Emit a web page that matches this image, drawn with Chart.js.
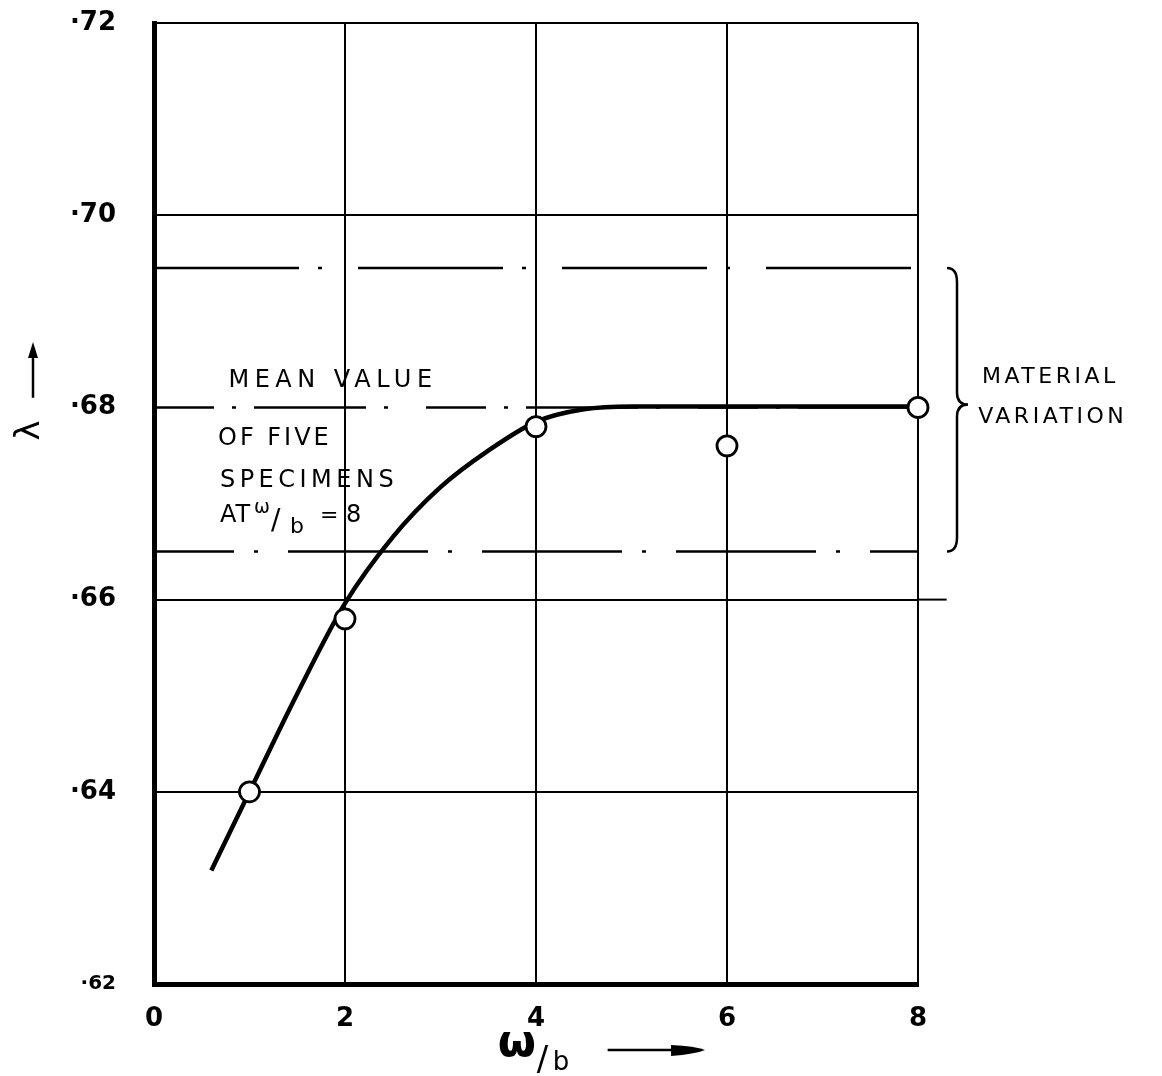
<!DOCTYPE html>
<html lang="en">
<head>
    <meta charset="UTF-8">
    <title>λ against ω/b</title>
    <script src="https://cdn.jsdelivr.net/npm/chart.js"></script>
    <style>
        html, body { margin: 0; padding: 0; background: #fff; }
        #wrap { width: 1162px; height: 1076px; }
    </style>
</head>
<body>
    <div id="wrap"><canvas id="lambdaChart" width="1162" height="1076"></canvas></div>

    <script>
        // axis ticks
        const xTicks = [0, 2, 4, 6, 8];
        const yTicks = [0.62, 0.64, 0.66, 0.68, 0.70, 0.72];

        // test results (open circles)
        const testX = [1, 2, 4, 6, 8];
        const testY = [0.640, 0.658, 0.678, 0.676, 0.680];

        // faired curve
        const curveX = [0.6, 1, 1.5, 2, 2.5, 3, 3.5, 4, 4.5, 5, 6, 7, 8];
        const curveY = [0.6318, 0.640, 0.6502, 0.6596, 0.6665, 0.6717, 0.6755, 0.6785, 0.6798, 0.6801, 0.6801, 0.6801, 0.6801];

        // mean of five specimens at w/b = 8, and the material scatter band
        const meanLevel = [0.680];
        const bandLevels = [0.6945, 0.6650];
        // the .66 rule runs a little past the frame
        const longRule = [0.66];

        const pts = (xs, ys) => xs.map((v, i) => ({ x: v, y: ys[i] }));
        const flat = (level, from, to) => [{ x: from, y: level }, { x: to, y: level }];

        Chart.defaults.font.family = '"DejaVu Sans", sans-serif';
        Chart.defaults.color = '#000';

        // hand lettering, brace and axis arrows
        const notes = {
            id: 'notes',
            afterDraw(chart) {
                const { ctx, chartArea, scales: { x, y } } = chart;
                const write = (text, px, py, size, spacing, weight) => {
                    ctx.font = (weight || 'normal') + ' ' + size + 'px "DejaVu Sans"';
                    ctx.letterSpacing = (spacing || 0) + 'px';
                    ctx.fillText(text, px, py);
                };
                ctx.save();
                ctx.fillStyle = '#000';
                ctx.strokeStyle = '#000';
                ctx.textAlign = 'left';
                ctx.textBaseline = 'alphabetic';

                const lines = [
                    ['MEAN VALUE', 0.78, 0.6821, 24, 5.5],
                    ['OF FIVE', 0.67, 0.6761, 24, 3],
                    ['SPECIMENS', 0.69, 0.6717, 24, 4.5],
                    ['MATERIAL', 8.67, 0.6825, 22, 3.5],
                    ['VARIATION', 8.63, 0.6784, 22, 3.5]
                ];
                lines.forEach(l => write(l[0], x.getPixelForValue(l[1]), y.getPixelForValue(l[2]), l[3], l[4]));

                // "AT w/b = 8"
                const ax = x.getPixelForValue(0.69), ay = y.getPixelForValue(0.6681);
                write('AT', ax, ay, 24, 1);
                write('ω', ax + 34, ay - 9, 19, 0);
                write('/', ax + 51, ay + 7, 28, 0);
                write('b', ax + 70, ay + 11, 22, 0);
                write('=', ax + 100, ay, 22, 0);
                write('8', ax + 126, ay, 24, 0);
                ctx.letterSpacing = '0px';

                // brace for the material variation band
                const yTop = y.getPixelForValue(bandLevels[0]);
                const yBot = y.getPixelForValue(bandLevels[1]);
                const yMid = y.getPixelForValue(meanLevel[0]) - 3;
                const b0 = chartArea.right + 29, b1 = chartArea.right + 39, bt = chartArea.right + 50;
                ctx.lineWidth = 2.5;
                ctx.beginPath();
                ctx.moveTo(b0, yTop);
                ctx.quadraticCurveTo(b1, yTop, b1, yTop + 14);
                ctx.lineTo(b1, yMid - 12);
                ctx.quadraticCurveTo(b1, yMid, bt, yMid);
                ctx.quadraticCurveTo(b1, yMid, b1, yMid + 12);
                ctx.lineTo(b1, yBot - 14);
                ctx.quadraticCurveTo(b1, yBot, b0, yBot);
                ctx.stroke();

                // x title: w/b with arrow
                const tx = x.getPixelForValue(3.6), ty = chartArea.bottom;
                write('ω', tx, ty + 72, 44, 0, 'bold');
                write('/', tx + 39, ty + 86, 34, 0);
                write('b', tx + 55, ty + 86, 26, 0);
                const a0 = x.getPixelForValue(4.75), a1 = x.getPixelForValue(5.77), ay2 = ty + 66;
                ctx.lineWidth = 2.5;
                ctx.beginPath();
                ctx.moveTo(a0, ay2);
                ctx.lineTo(a1 - 20, ay2);
                ctx.stroke();
                ctx.beginPath();
                ctx.moveTo(a1 - 34, ay2 - 5);
                ctx.quadraticCurveTo(a1 - 10, ay2 - 4, a1, ay2);
                ctx.quadraticCurveTo(a1 - 10, ay2 + 4, a1 - 34, ay2 + 6);
                ctx.closePath();
                ctx.fill();

                // y title: lambda with upward arrow
                const lx = chartArea.left - 124, ly = y.getPixelForValue(0.6776);
                ctx.save();
                ctx.translate(lx, ly);
                ctx.rotate(-Math.PI / 2);
                ctx.textAlign = 'center';
                ctx.textBaseline = 'middle';
                write('λ', 0, 0, 34, 0);
                ctx.restore();
                const v0 = y.getPixelForValue(0.6810), v1 = y.getPixelForValue(0.6868), vx = lx + 3;
                ctx.lineWidth = 2.5;
                ctx.beginPath();
                ctx.moveTo(vx, v0);
                ctx.lineTo(vx, v1 + 12);
                ctx.stroke();
                ctx.beginPath();
                ctx.moveTo(vx - 5, v1 + 16);
                ctx.lineTo(vx, v1);
                ctx.lineTo(vx + 5, v1 + 16);
                ctx.closePath();
                ctx.fill();

                ctx.restore();
            }
        };

        const lambdaChart = new Chart(document.getElementById('lambdaChart'), {
            type: 'line',
            data: {
                datasets: [
                    {
                        label: 'tests',
                        data: pts(testX, testY),
                        showLine: false,
                        pointRadius: 10,
                        pointBorderWidth: 2.8,
                        pointBorderColor: '#000',
                        pointBackgroundColor: '#fff',
                        clip: false,
                        order: 0
                    },
                    {
                        label: 'curve',
                        data: pts(curveX, curveY),
                        borderColor: '#000',
                        borderWidth: 4.5,
                        pointRadius: 0,
                        cubicInterpolationMode: 'monotone',
                        order: 1
                    },
                    {
                        label: 'mean',
                        data: flat(meanLevel[0], 0, 8),
                        borderColor: '#000',
                        borderWidth: 2.5,
                        borderDash: [60, 18, 4, 18, 112, 18, 4, 38],
                        pointRadius: 0,
                        order: 2
                    },
                    {
                        label: 'band top',
                        data: flat(bandLevels[0], 0, 8),
                        borderColor: '#000',
                        borderWidth: 2.5,
                        borderDash: [145, 19, 4, 36],
                        pointRadius: 0,
                        order: 2
                    },
                    {
                        label: 'band bottom',
                        data: flat(bandLevels[1], 0, 8),
                        borderColor: '#000',
                        borderWidth: 2.5,
                        borderDash: [140, 20, 4, 30],
                        borderDashOffset: 60,
                        pointRadius: 0,
                        order: 2
                    },
                    {
                        label: 'long rule',
                        data: flat(longRule[0], 8, 8.3),
                        borderColor: '#000',
                        borderWidth: 2,
                        pointRadius: 0,
                        clip: false,
                        order: 2
                    }
                ]
            },
            options: {
                responsive: false,
                animation: false,
                devicePixelRatio: 1,
                layout: { padding: { top: 23, right: 244, left: 0, bottom: 0 } },
                plugins: {
                    legend: { display: false },
                    tooltip: { enabled: false }
                },
                scales: {
                    x: {
                        type: 'linear',
                        min: 0,
                        max: 8,
                        afterBuildTicks: s => { s.ticks = xTicks.map(v => ({ value: v })); },
                        afterFit: s => { s.height = 92; s.paddingLeft = 0; s.paddingRight = 0; },
                        ticks: {
                            color: '#000',
                            padding: 20,
                            font: { size: 26, weight: 'bold' }
                        },
                        grid: { color: '#000', lineWidth: 2, drawTicks: false },
                        border: { display: true, color: '#000', width: 5 }
                    },
                    y: {
                        min: 0.62,
                        max: 0.72,
                        afterBuildTicks: s => { s.ticks = yTicks.map(v => ({ value: v })); },
                        afterFit: s => { s.width = 154; s.paddingTop = 0; s.paddingBottom = 0; },
                        ticks: {
                            color: '#000',
                            padding: 38,
                            font: c => ({ size: c.tick && c.tick.value === 0.62 ? 20 : 26, weight: 'bold' }),
                            callback: v => '·' + v.toFixed(2).slice(2)
                        },
                        grid: {
                            color: c => (c.tick && c.tick.value === 0.68) ? 'rgba(0,0,0,0)' : '#000',
                            lineWidth: 2,
                            drawTicks: false
                        },
                        border: { display: true, color: '#000', width: 5 }
                    }
                }
            },
            plugins: [notes]
        });
    </script>
</body>
</html>
